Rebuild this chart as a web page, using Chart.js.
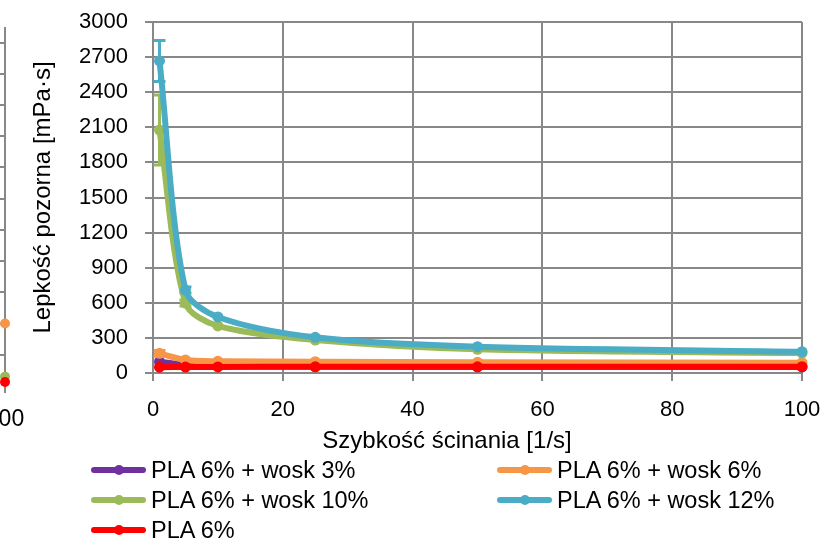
<!DOCTYPE html>
<html>
<head>
<meta charset="utf-8">
<script src="https://cdn.jsdelivr.net/npm/chart.js@4"></script>
<style>
  body { margin: 0; background: #fff; }
  #wrap { position: relative; width: 827px; height: 540px; overflow: hidden; font-family: "Liberation Sans", Arial, sans-serif; }
  #bok { position: absolute; top: 0; z-index: 0; }
  #wykres { position: absolute; left: 0; top: 0; z-index: 1; }
  #tytulX { position: absolute; left: 447px; top: 440px; transform: translate(-50%, -50%); font-size: 24px; white-space: nowrap; z-index: 2; }
  #legenda { position: absolute; left: 91px; top: 455px; display: grid; grid-template-columns: 406px 300px; row-gap: 0; z-index: 2; }
  .poz { display: flex; align-items: center; height: 30px; font-size: 23.5px; white-space: nowrap; }
  .znak { position: relative; width: 55px; height: 6px; margin-right: 5px; border-radius: 3px; }
  .znak span { position: absolute; left: 23px; top: -2px; width: 10px; height: 10px; border-radius: 50%; }
</style>
</head>
<body>
<div id="wrap">
  <canvas id="bok" width="240" height="540"></canvas>
  <canvas id="wykres" width="827" height="540"></canvas>
  <div id="tytulX">Szybkość ścinania [1/s]</div>
  <div id="legenda"></div>
</div>
<script>
// Szybkość ścinania [1/s]
const szybkosc = [1, 5, 10, 25, 50, 100];

// Lepkość pozorna [mPa·s]
const wosk3 = [97, 72, 60, 55, 53, 52];
const wosk6 = [168, 111, 100, 97, 92, 88];
const wosk10 = [2077, 598, 402, 282, 203, 170];
const wosk12 = [2667, 709, 479, 305, 225, 182];
const pla6 = [50, 51, 52, 53, 53, 54];

// odchylenia (słupki błędów)
const blad3 = [0, 0, 0, 0, 0, 0];
const blad6 = [25, 0, 0, 0, 0, 0];
const blad10 = [300, 25, 0, 0, 0, 0];
const blad12 = [175, 25, 0, 0, 0, 0];
const bladPla = [0, 0, 0, 0, 0, 0];

const nazwy = ["PLA 6% + wosk 3%", "PLA 6% + wosk 6%", "PLA 6% + wosk 10%", "PLA 6% + wosk 12%", "PLA 6%"];
const kolory = ["#7030A0", "#F79646", "#9BBB59", "#4BACC6", "#FF0000"];
const serie = [wosk3, wosk6, wosk10, wosk12, pla6];
const bledy = [blad3, blad6, blad10, blad12, bladPla];
const kolejnosc = [5, 4, 3, 2, 1];

const yTicks = { min: 0, max: 3000, step: 300 };
const xTicks = { min: 0, max: 100, step: 20 };

// fragment sąsiedniego wykresu (ucięty z lewej)
const bokNazwy = ["wosk 6%", "wosk 10%", "PLA 6%"];
const bokKolory = ["#F79646", "#9BBB59", "#FF0000"];
const bokX = [100, 100, 100];
const bokY = [2.0, 0.3, 0.13];

const czcionka = "'Liberation Sans', Arial, sans-serif";
const szary = "#888888";

function bezMarginesu(s) {
  s.paddingLeft = 0; s.paddingRight = 0; s.paddingTop = 0; s.paddingBottom = 0;
}

const slupkiBledow = {
  id: "slupkiBledow",
  beforeDatasetsDraw(chart) {
    const ctx = chart.ctx;
    const sx = chart.scales.x, sy = chart.scales.y;
    chart.data.datasets.forEach(ds => {
      if (!ds.bledy) return;
      ctx.save();
      ctx.strokeStyle = ds.borderColor;
      ctx.lineWidth = 3;
      ds.data.forEach((p, i) => {
        const e = ds.bledy[i];
        if (!e) return;
        const x = sx.getPixelForValue(p.x);
        const y1 = sy.getPixelForValue(p.y + e);
        const y2 = sy.getPixelForValue(p.y - e);
        ctx.beginPath();
        ctx.moveTo(x, y1); ctx.lineTo(x, y2);
        ctx.moveTo(x - 6, y1); ctx.lineTo(x + 6, y1);
        ctx.moveTo(x - 6, y2); ctx.lineTo(x + 6, y2);
        ctx.stroke();
      });
      ctx.restore();
    });
  }
};

const zbiory = serie.map((s, k) => ({
  label: nazwy[k],
  data: s.map((v, i) => ({ x: szybkosc[i], y: v })),
  bledy: bledy[k],
  borderColor: kolory[k],
  backgroundColor: kolory[k],
  borderWidth: 6,
  pointRadius: 5.5,
  pointBorderWidth: 0,
  tension: 0.3,
  clip: false,
  order: kolejnosc[k]
}));

const wykres = new Chart(document.getElementById("wykres"), {
  type: "line",
  data: { datasets: zbiory },
  options: {
    responsive: false,
    animation: false,
    layout: { padding: { top: 22, right: 25, left: 0, bottom: 0 } },
    plugins: { legend: { display: false }, tooltip: { enabled: false } },
    scales: {
      x: {
        type: "linear",
        min: xTicks.min, max: xTicks.max,
        ticks: { stepSize: xTicks.step, color: "#000", padding: 16, font: { family: czcionka, size: 22 } },
        grid: { color: szary, lineWidth: 2, tickLength: 8 },
        border: { color: szary, width: 2 },
        afterFit(s) { s.height = 167; bezMarginesu(s); }
      },
      y: {
        min: yTicks.min, max: yTicks.max,
        ticks: { stepSize: yTicks.step, color: "#000", padding: 17, font: { family: czcionka, size: 22 }, callback: v => String(v) },
        grid: { color: szary, lineWidth: 2, tickLength: 8 },
        border: { color: szary, width: 2 },
        title: { display: true, text: "Lepkość pozorna [mPa·s]", color: "#000", padding: { top: 29, bottom: 0 }, font: { family: czcionka, size: 24 } },
        afterFit(s) { s.width = 153; bezMarginesu(s); }
      }
    }
  },
  plugins: [slupkiBledow]
});

// legenda w dwóch kolumnach, jak w Excelu
const legenda = document.getElementById("legenda");
wykres.data.datasets.forEach(ds => {
  const poz = document.createElement("div");
  poz.className = "poz";
  poz.innerHTML = `<div class="znak" style="background:${ds.borderColor}"><span style="background:${ds.borderColor}"></span></div>${ds.label}`;
  legenda.appendChild(poz);
});

// ucięty wykres po lewej
const bokCanvas = document.getElementById("bok");
const bok = new Chart(bokCanvas, {
  type: "scatter",
  data: {
    datasets: bokY.map((v, k) => ({
      label: bokNazwy[k],
      data: [{ x: bokX[k], y: v }],
      backgroundColor: bokKolory[k],
      borderWidth: 0,
      pointRadius: 5,
      clip: false,
      order: k === 2 ? 0 : k + 1
    }))
  },
  options: {
    responsive: false,
    animation: false,
    layout: { padding: { top: 27, right: 40, left: 0, bottom: 0 } },
    plugins: { legend: { display: false }, tooltip: { enabled: false } },
    scales: {
      x: {
        type: "linear",
        min: 0, max: 100,
        ticks: { stepSize: 20, autoSkip: false, maxRotation: 0, color: "#000", padding: 13, font: { family: czcionka, size: 23 } },
        grid: { color: szary, lineWidth: 2, tickLength: 7 },
        border: { display: false },
        afterFit(s) { s.height = 154; bezMarginesu(s); }
      },
      y: {
        type: "linear",
        min: 0, max: 11.5,
        ticks: { stepSize: 1, display: false },
        grid: { color: c => Number.isInteger(c.tick.value) && c.tick.value > 0 ? szary : "rgba(0,0,0,0)", lineWidth: 2, drawTicks: false },
        border: { display: false },
        afterFit(s) { bezMarginesu(s); }
      }
    }
  }
});
bokCanvas.style.left = (5 - bok.chartArea.right) + "px";
</script>
</body>
</html>
